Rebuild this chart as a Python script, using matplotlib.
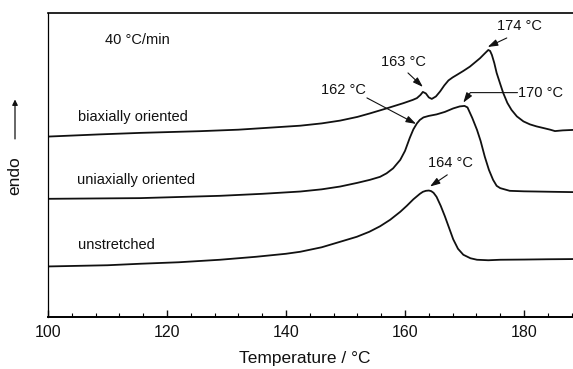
import matplotlib
matplotlib.use("Agg")
import matplotlib.pyplot as plt
from matplotlib.ticker import MultipleLocator

plt.rcParams['font.family'] = ['Liberation Sans', 'DejaVu Sans']

# DSC traces, heating at 40 degC/min (heat flow in arbitrary units, curves offset)
temp_biax = [100, 108.7, 115.5, 125.5, 132, 138, 142.4, 146, 149.1, 152, 154.1, 156.9,
             159.7, 161.3, 162.0, 162.6, 163.0, 163.5, 164.0, 164.5, 165.2, 165.9, 166.6, 167.3,
             168.0, 168.7, 169.8, 170.9, 172.6, 173.4, 174.0, 174.3, 174.6, 175.0, 175.4,
             176.0, 176.5, 177.2, 177.9, 178.8, 179.9, 181, 182.1, 183.3, 184.4, 185.2, 186.5, 188.4]
flow_biax = [18.03, 18.25, 18.4, 18.57, 18.72, 18.95, 19.12, 19.35, 19.63, 20.0, 20.35, 20.85,
             21.37, 21.7, 21.88, 22.2, 22.5, 22.35, 21.95, 21.8, 22.05, 22.55, 23.15, 23.65,
             23.95, 24.2, 24.6, 25.03, 25.87, 26.35, 26.7, 26.6, 26.2, 25.4, 24.4,
             23.3, 22.4, 21.4, 20.7, 20.05, 19.55, 19.25, 19.05, 18.88, 18.72, 18.58, 18.65, 18.7]

temp_uni = [100, 115.5, 128.9, 136, 142.4, 146, 149.1, 152, 154.1, 155.8, 156.9, 158,
            159.2, 160.0, 160.8, 161.4, 162.0, 162.5, 163.1, 164.0, 165.3, 166.7, 168.1,
            169.2, 170.0, 170.5, 171.3, 172.1, 172.7, 173.4, 174.1, 174.8, 175.4, 176.0,
            177.6, 180, 182.1, 185, 188.4]
flow_uni = [11.8, 11.87, 12.1, 12.3, 12.53, 12.75, 13.03, 13.4, 13.7, 14.0, 14.35, 14.85,
            15.7, 16.6, 17.9, 18.75, 19.35, 19.7, 19.95, 20.1, 20.25, 20.5, 20.85,
            21.05, 21.1, 20.95, 19.9, 18.7, 17.6, 16.03, 14.7, 13.7, 13.1, 12.87,
            12.6, 12.55, 12.53, 12.5, 12.47]

temp_uns = [100, 110, 115.5, 122, 128.9, 135, 140, 142.4, 146, 149.1, 151.9, 154, 155.8,
            157.5, 159.2, 160.3, 161.4, 162.5, 163.0, 163.5, 164.0, 164.4, 164.8, 165.3, 166.0, 166.7,
            167.4, 168.1, 168.9, 169.8, 171.0, 172.1, 174, 176.0, 180, 184, 188.4]
flow_uns = [5.03, 5.15, 5.3, 5.45, 5.7, 6.0, 6.3, 6.5, 6.95, 7.5, 8.0, 8.5, 9.05,
            9.7, 10.5, 11.1, 11.75, 12.3, 12.5, 12.6, 12.63, 12.57, 12.4, 12.0, 11.1, 10.05,
            8.9, 7.75, 6.8, 6.2, 5.85, 5.7, 5.65, 5.7, 5.72, 5.75, 5.77]

fig = plt.figure(figsize=(5.73, 3.69), dpi=100)
ax = fig.add_axes([48 / 573, 52.3 / 369, 526 / 573, 303.7 / 369])

for t, f in [(temp_biax, flow_biax), (temp_uni, flow_uni), (temp_uns, flow_uns)]:
    ax.plot(t, f, color='#111111', lw=1.3, solid_joinstyle='round')

ax.set_xlim(100, 188.4)
ax.set_ylim(0, 30.4)
ax.set_xticks([100, 120, 140, 160, 180])
ax.xaxis.set_minor_locator(MultipleLocator(4))
ax.tick_params(axis='x', which='major', direction='in', length=5, width=1,
               labelsize=11.5, pad=6, colors='#111111')
ax.tick_params(axis='x', which='minor', direction='in', length=3, width=0.8)
ax.set_yticks([])
ax.spines['right'].set_visible(False)
ax.spines['bottom'].set_linewidth(1.4)
ax.spines['top'].set_linewidth(1.2)
ax.spines['left'].set_linewidth(0.9)

ax.set_xlabel('Temperature / °C', fontsize=12.5, color='#111111')
ax.xaxis.set_label_coords(0.489, -0.113)
ax.xaxis.label.set_va('top')

# y label with upward arrow
fig.text(15 / 573, 1 - 176 / 369, 'endo', rotation=90, fontsize=12.5,
         ha='center', va='center', color='#111111')
fig.add_artist(matplotlib.patches.FancyArrowPatch(
    (15 / 573, 1 - 141.7 / 369), (15 / 573, 1 - 96.7 / 369),
    transform=fig.transFigure, arrowstyle='-|>', mutation_scale=8, lw=0.9, color='#111111'))

txt = dict(fontsize=10.5, color='#111111', va='center')
ax.text(115.0, 27.7, '40 °C/min', ha='center', **txt)
ax.text(105.0, 20.0, 'biaxially oriented', ha='left', **txt)
ax.text(104.9, 13.7, 'uniaxially oriented', ha='left', **txt)
ax.text(105.0, 7.2, 'unstretched', ha='left', **txt)

arrow = dict(arrowstyle='-|>,head_length=0.6,head_width=0.2', lw=0.8, color='#111111',
             shrinkA=0, shrinkB=0, mutation_scale=10)

ax.text(179.3, 29.1, '174 °C', ha='center', **txt)
ax.annotate('', xy=(173.9, 27.0), xytext=(177.1, 27.9), arrowprops=arrow)

ax.text(159.7, 25.5, '163 °C', ha='center', **txt)
ax.annotate('', xy=(163.0, 23.0), xytext=(160.5, 24.4), arrowprops=arrow)

ax.text(149.7, 22.7, '162 °C', ha='center', **txt)
ax.annotate('', xy=(161.85, 19.3), xytext=(153.6, 21.9), arrowprops=arrow)

ax.text(179.0, 22.43, '170 °C', ha='left', **txt)
ax.annotate('', xy=(169.8, 21.43), xytext=(178.9, 22.43),
            arrowprops=dict(arrow, connectionstyle='angle,angleA=180,angleB=55,rad=0'))

ax.text(167.6, 15.4, '164 °C', ha='center', **txt)
ax.annotate('', xy=(164.2, 13.03), xytext=(167.1, 14.2), arrowprops=arrow)

fig.savefig('out.png', dpi=100)
